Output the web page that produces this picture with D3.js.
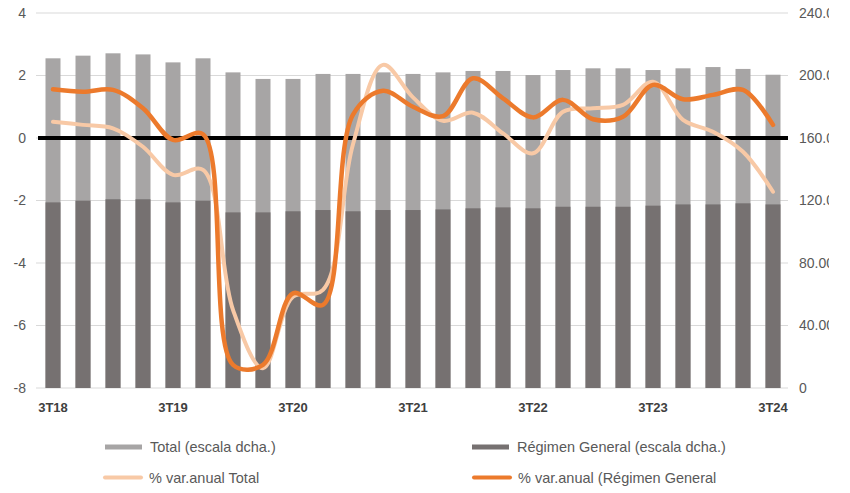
<!DOCTYPE html>
<html>
<head>
<meta charset="utf-8">
<script src="https://cdn.jsdelivr.net/npm/d3@7"></script>
<style>
  html, body { margin: 0; padding: 0; background: #fff; }
  svg { display: block; font-family: "Liberation Sans", Arial, sans-serif; }
</style>
</head>
<body>
<svg id="chart" width="850" height="493"></svg>
<script>
// Quarters (3T18 … 3T24)
const quarters = ["3T18","4T18","1T19","2T19","3T19","4T19","1T20","2T20","3T20","4T20",
  "1T21","2T21","3T21","4T21","1T22","2T22","3T22","4T22","1T23","2T23","3T23","4T23",
  "1T24","2T24","3T24"];

// Afiliados, right scale
const total = [211.0,212.7,214.2,213.5,208.4,211.0,202.0,197.8,197.8,201.0,201.0,202.0,
  201.0,202.0,202.9,202.9,200.3,203.5,204.6,204.6,203.5,204.6,205.4,204.2,200.5];
const general = [118.8,119.9,120.8,120.8,118.8,119.9,112.4,112.4,113.1,113.9,113.1,113.9,
  113.9,114.3,115.0,115.6,115.0,116.0,116.0,116.0,116.7,117.5,117.5,118.2,117.5];

// % variación anual, left scale
const varTotal = [0.52,0.42,0.31,-0.28,-1.18,-1.02,-5.5,-7.37,-5.08,-4.86,-0.2,2.34,
  1.3,0.55,0.81,0.15,-0.49,0.84,0.95,1.06,1.80,0.58,0.2,-0.44,-1.72];
const varGeneral = [1.56,1.48,1.54,0.95,-0.06,0.12,-7.26,-7.26,-4.97,-5.34,0.75,1.51,
  1.0,0.70,1.91,1.27,0.66,1.22,0.6,0.68,1.70,1.24,1.38,1.54,0.42];

const leftTicks = [4, 2, 0, -2, -4, -6, -8];
const rightTicks = [240, 200, 160, 120, 80, 40, 0];
const rightTickLabels = ["240.00", "200.00", "160.00", "120.00", "80.00", "40.00", "0"];

const svg = d3.select("#chart");
const plot = { left: 38, right: 788, top: 13, bottom: 388 };

const x = d3.scaleBand().domain(quarters).range([plot.left, plot.right]).paddingInner(0.5).paddingOuter(0.25);
const yL = d3.scaleLinear().domain([-8, 4]).range([plot.bottom, plot.top]);
const yR = d3.scaleLinear().domain([0, 240]).range([plot.bottom, plot.top]);

const textColor = "#595959";

// The chart frame ends just past the right-hand labels
svg.append("defs").append("clipPath").attr("id", "frame")
  .append("rect").attr("x", 0).attr("y", 0).attr("width", 829).attr("height", 493);

// Gridlines
svg.append("g").selectAll("line").data(leftTicks).join("line")
  .attr("x1", plot.left - 2).attr("x2", plot.right)
  .attr("y1", d => yL(d)).attr("y2", d => yL(d))
  .attr("stroke", "#d9d9d9").attr("stroke-width", 1);

// Left axis labels
svg.append("g").selectAll("text").data(leftTicks).join("text")
  .attr("x", 26).attr("y", d => yL(d)).attr("dy", "0.35em")
  .attr("text-anchor", "end").attr("font-size", 14).attr("fill", textColor)
  .text(d => d);

// Right axis labels
svg.append("g").attr("clip-path", "url(#frame)")
  .selectAll("text").data(rightTicks).join("text")
  .attr("x", 799).attr("y", d => yR(d)).attr("dy", "0.35em")
  .attr("text-anchor", "start").attr("font-size", 14).attr("fill", textColor)
  .text((d, i) => rightTickLabels[i]);

// Bars: total, then régimen general on top
svg.append("g").selectAll("rect").data(quarters).join("rect")
  .attr("x", d => x(d)).attr("width", x.bandwidth())
  .attr("y", (d, i) => yR(total[i])).attr("height", (d, i) => yR(0) - yR(total[i]))
  .attr("fill", "#a7a5a5");
svg.append("g").selectAll("rect").data(quarters).join("rect")
  .attr("x", d => x(d)).attr("width", x.bandwidth())
  .attr("y", (d, i) => yR(general[i])).attr("height", (d, i) => yR(0) - yR(general[i]))
  .attr("fill", "#767171");

// Zero line
svg.append("line")
  .attr("x1", plot.left).attr("x2", plot.right)
  .attr("y1", yL(0)).attr("y2", yL(0))
  .attr("stroke", "#000").attr("stroke-width", 4);

// Smoothed lines
const cx = d => x(d) + x.bandwidth() / 2;
const line = vals => d3.line()
  .x(d => cx(d))
  .y((d, i) => yL(vals[i]))
  .curve(d3.curveCatmullRom.alpha(0.5))(quarters);

svg.append("path").attr("d", line(varTotal))
  .attr("fill", "none").attr("stroke", "#f8c9a6").attr("stroke-width", 4)
  .attr("stroke-linecap", "round");
svg.append("path").attr("d", line(varGeneral))
  .attr("fill", "none").attr("stroke", "#ec7a2c").attr("stroke-width", 4.5)
  .attr("stroke-linecap", "round");

// X labels (third quarters only)
svg.append("g").selectAll("text").data(quarters.filter(q => q.startsWith("3T"))).join("text")
  .attr("x", d => cx(d)).attr("y", 412)
  .attr("text-anchor", "middle").attr("font-size", 13).attr("font-weight", "bold")
  .attr("fill", "#404040")
  .text(d => d);

// Legend
const legend = [
  { label: "Total (escala dcha.)", color: "#a7a5a5", type: "bar", x: 105, y: 447 },
  { label: "Régimen General (escala dcha.)", color: "#767171", type: "bar", x: 472, y: 447 },
  { label: "% var.anual Total", color: "#f8c9a6", type: "line", x: 103, y: 478 },
  { label: "% var.anual (Régimen General", color: "#ec7a2c", type: "line", x: 472, y: 478 }
];
const lg = svg.append("g").selectAll("g").data(legend).join("g");
lg.append("rect")
  .attr("x", d => d.x).attr("width", d => d.type === "bar" ? 37 : 40)
  .attr("y", d => d.y - 2.5).attr("height", d => d.type === "bar" ? 5 : 4)
  .attr("rx", d => d.type === "line" ? 2 : 0)
  .attr("fill", d => d.color);
lg.append("text")
  .attr("x", d => d.x + (d.type === "bar" ? 45 : 46)).attr("y", d => d.y).attr("dy", "0.35em")
  .attr("font-size", 14.5).attr("fill", textColor)
  .text(d => d.label);
</script>
</body>
</html>
